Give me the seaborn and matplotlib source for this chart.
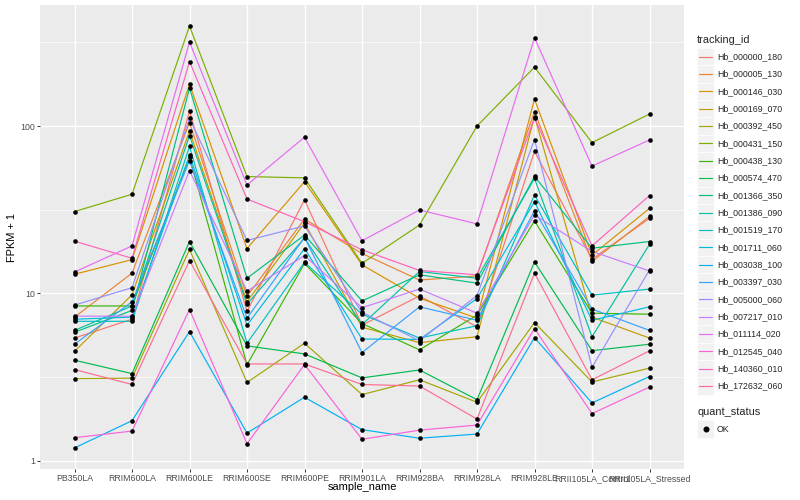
import numpy as np
import pandas as pd
import matplotlib
matplotlib.use('Agg')
import matplotlib.pyplot as plt
from matplotlib.lines import Line2D
from matplotlib.patches import Rectangle
import seaborn as sns

# Datos (FPKM + 1)
samples = ['PB350LA', 'RRIM600LA', 'RRIM600LE', 'RRIM600SE', 'RRIM600PE',
           'RRIM901LA', 'RRIM928BA', 'RRIM928LA', 'RRIM928LE',
           'RRII105LA_Control', 'RRII105LA_Stressed']

hb_000000_180 = [5.4, 7.0, 123, 7.8, 36.2, 6.45, 9.65, 6.3, 70.5, 16.0, 28.1]
hb_000005_130 = [7.2, 13.2, 105, 9.6, 27.8, 17.3, 12.0, 12.7, 122, 15.5, 28.8]
hb_000146_030 = [13.0, 15.9, 178, 18.5, 46.5, 14.8, 9.35, 7.1, 145, 16.9, 32.2]
hb_000169_070 = [4.5, 9.8, 93.5, 8.9, 26.3, 6.27, 5.07, 5.5, 114, 7.2, 5.4]
hb_000392_450 = [3.09, 3.11, 18.3, 2.93, 5.03, 2.48, 3.04, 2.23, 6.68, 2.95, 3.57]
hb_000431_150 = [30.8, 39.1, 396, 49.9, 49.0, 15.1, 25.6, 100, 225, 79.6, 118]
hb_000438_130 = [8.4, 8.4, 65, 3.74, 15.1, 6.6, 4.59, 7.4, 27.1, 7.6, 7.5]
hb_000574_470 = [3.98, 3.31, 20.4, 4.85, 4.34, 3.12, 3.48, 2.31, 15.4, 4.54, 4.96]
hb_001366_350 = [5.85, 7.9, 169, 12.3, 22.3, 9.0, 12.9, 11.5, 50, 18.6, 20.4]
hb_001386_090 = [6.0, 8.4, 87.6, 8.6, 21.4, 6.5, 13.5, 12.3, 48.6, 5.5, 19.6]
hb_001519_170 = [6.8, 6.8, 75.5, 5.03, 15.3, 7.5, 5.4, 6.4, 38.7, 9.75, 10.6]
hb_001711_060 = [7.0, 7.2, 67, 6.45, 18.5, 5.33, 5.3, 9.3, 35.3, 6.9, 8.3]
hb_003038_100 = [1.19, 1.73, 5.9, 1.46, 2.39, 1.53, 1.36, 1.44, 5.43, 2.21, 3.18]
hb_003397_030 = [4.96, 8.9, 62, 7.1, 21.6, 4.42, 8.3, 6.9, 31.2, 8.05, 6.0]
hb_005000_060 = [8.5, 10.8, 111, 20.7, 25.3, 7.7, 5.2, 9.7, 83, 3.61, 13.8]
hb_007217_010 = [7.3, 7.3, 54.2, 10.3, 16.8, 8.2, 10.6, 7.6, 29.4, 17.8, 13.6]
hb_011114_020 = [13.4, 19.2, 318, 44.4, 85.8, 20.6, 31.5, 26, 337, 57.6, 82.6]
hb_012545_040 = [1.37, 1.5, 8.0, 1.26, 3.75, 1.34, 1.52, 1.63, 6.15, 1.91, 2.75]
hb_140360_010 = [20.5, 16.2, 243, 36.6, 26.8, 18.2, 13.7, 12.9, 112, 19.2, 38.4]
hb_172632_060 = [3.5, 2.85, 15.7, 3.78, 3.78, 2.85, 2.79, 1.77, 13.2, 3.04, 4.53]

tracking_ids = ['Hb_000000_180', 'Hb_000005_130', 'Hb_000146_030', 'Hb_000169_070',
                'Hb_000392_450', 'Hb_000431_150', 'Hb_000438_130', 'Hb_000574_470',
                'Hb_001366_350', 'Hb_001386_090', 'Hb_001519_170', 'Hb_001711_060',
                'Hb_003038_100', 'Hb_003397_030', 'Hb_005000_060', 'Hb_007217_010',
                'Hb_011114_020', 'Hb_012545_040', 'Hb_140360_010', 'Hb_172632_060']
series = [hb_000000_180, hb_000005_130, hb_000146_030, hb_000169_070, hb_000392_450,
          hb_000431_150, hb_000438_130, hb_000574_470, hb_001366_350, hb_001386_090,
          hb_001519_170, hb_001711_060, hb_003038_100, hb_003397_030, hb_005000_060,
          hb_007217_010, hb_011114_020, hb_012545_040, hb_140360_010, hb_172632_060]
quant_levels = ['OK']

# Paleta tipo ggplot (hue_pal para 20 niveles)
colores = ['#F8766D', '#EA8331', '#D89000', '#C09B00', '#A3A500', '#7CAE00', '#39B600',
           '#00BB4E', '#00BF7D', '#00C1A3', '#00BFC4', '#00BAE0', '#00B0F6', '#35A2FF',
           '#9590FF', '#C77CFF', '#E76BF3', '#FA62DB', '#FF62BC', '#FF6C91']

filas = []
for tid, vals in zip(tracking_ids, series):
    for s, v in zip(samples, vals):
        filas.append({'tracking_id': tid, 'sample_name': s, 'fpkm1': v,
                      'quant_status': quant_levels[0]})
df = pd.DataFrame(filas)
df['x'] = df['sample_name'].map({s: i for i, s in enumerate(samples)})

# Estilo
sns.set_theme(style='darkgrid', rc={'axes.facecolor': '#EBEBEB',
                                    'grid.color': 'white'})
plt.rcParams['font.family'] = ['Liberation Sans', 'DejaVu Sans']

W, H = 800, 500
fig = plt.figure(figsize=(W / 100, H / 100), dpi=100)
fig.patch.set_facecolor('white')

def fx(x):
    return x / W

def fy(y):
    return 1 - y / H

pl, pr, pt, pb = 40, 684, 5, 469
ax = fig.add_axes([fx(pl), fy(pb), fx(pr - pl), (pb - pt) / H])

sns.lineplot(data=df, x='x', y='fpkm1', hue='tracking_id', hue_order=tracking_ids,
             palette=colores, ax=ax, legend=False, sort=False, lw=0.85,
             estimator=None, units='tracking_id')
ax.scatter(df['x'], df['fpkm1'], marker='o', s=11, color='black', zorder=5,
           linewidths=0)

ax.set_yscale('log')
lmin, lmax = np.log10(df['fpkm1'].min()), np.log10(df['fpkm1'].max())
ext = (lmax - lmin) * 0.05
ax.set_ylim(10 ** (lmin - ext), 10 ** (lmax + ext))
ax.set_xlim(-0.6, len(samples) - 0.4)

ax.set_yticks([1, 10, 100])
ax.set_yticklabels(['1', '10', '100'])
ax.set_yticks([10 ** 0.5, 10 ** 1.5, 10 ** 2.5], minor=True)
ax.yaxis.set_minor_formatter(matplotlib.ticker.NullFormatter())
ax.set_xticks(range(len(samples)))
ax.set_xticklabels(samples)

ax.grid(which='major', color='white', lw=1.0)
ax.grid(which='minor', axis='y', color='white', lw=0.5)
ax.tick_params(which='major', length=2.0, width=0.7, color='#333333', pad=1.6,
               labelsize=6.3, labelcolor='#4D4D4D', bottom=True, left=True)
ax.tick_params(which='minor', length=0, left=False)
for sp in ax.spines.values():
    sp.set_visible(False)
ax.set_xlabel('')
ax.set_ylabel('')

fig.text(fx((pl + pr) / 2), fy(487), 'sample_name', ha='center', va='center',
         fontsize=7.9, color='black')
fig.text(fx(12), fy((pt + pb) / 2), 'FPKM + 1', ha='center', va='center',
         rotation=90, fontsize=7.9, color='black')

# Leyenda manual estilo ggplot
fig.text(fx(697), fy(40), 'tracking_id', ha='left', va='center', fontsize=7.9)
for i, (tid, c) in enumerate(zip(tracking_ids, colores)):
    yc = 56.7 + i * 17.33
    fig.patches.append(Rectangle((fx(697), fy(yc + 8.6)), 17 / W, 17.2 / H,
                                 transform=fig.transFigure, facecolor='#F2F2F2',
                                 edgecolor='white', lw=0.5))
    fig.lines.append(Line2D([fx(699), fx(712)], [fy(yc), fy(yc)], color=c, lw=0.85,
                            transform=fig.transFigure))
    fig.text(fx(717), fy(yc), tid, ha='left', va='center', fontsize=6.3)

fig.text(fx(697), fy(412), 'quant_status', ha='left', va='center', fontsize=7.9)
yc = 429
fig.patches.append(Rectangle((fx(697), fy(yc + 8.6)), 17 / W, 17.2 / H,
                             transform=fig.transFigure, facecolor='#F2F2F2',
                             edgecolor='white', lw=0.5))
fig.lines.append(Line2D([fx(705.5)], [fy(yc)], marker='o', markersize=3.3,
                        color='black', lw=0, transform=fig.transFigure))
fig.text(fx(717), fy(yc), quant_levels[0], ha='left', va='center', fontsize=6.3)

fig.savefig('out.png', dpi=100)
